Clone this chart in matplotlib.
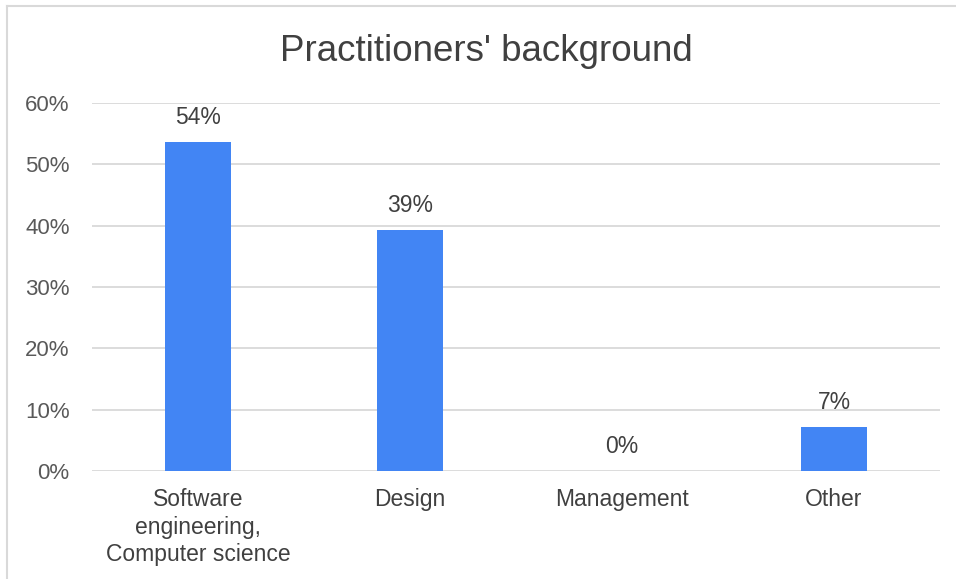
import matplotlib.pyplot as plt
from matplotlib.lines import Line2D
from matplotlib.ticker import FuncFormatter

categories = ["Software\nengineering,\nComputer science", "Design", "Management", "Other"]
shares = [15 / 28, 11 / 28, 0 / 28, 2 / 28]
y_ticks = [0, 0.1, 0.2, 0.3, 0.4, 0.5, 0.6]

BAR_COLOR = "#4285f4"
GRID_COLOR = "#d9d9d9"
TEXT_COLOR = "#595959"


def main():
    plt.rcParams['font.family'] = ['Liberation Sans', 'DejaVu Sans']
    fig = plt.figure(figsize=(9.56, 5.79), dpi=100)
    ax = fig.add_axes([0.0962, 0.1865, 0.8871, 0.6356])

    x = list(range(len(categories)))
    ax.bar(x, shares, width=0.31, color=BAR_COLOR, zorder=3)

    for xi, v in zip(x, shares):
        ax.text(xi, v + 0.022, "{:.0%}".format(v), ha="center", va="bottom",
                fontsize=16.5, color="#404040", zorder=4)

    ax.set_xlim(-0.5, len(categories) - 0.5)
    ax.set_ylim(0, 0.6)
    ax.set_yticks(y_ticks)
    ax.yaxis.set_major_formatter(FuncFormatter(lambda v, p: "{:.0%}".format(v)))
    ax.set_xticks(x)
    ax.set_xticklabels(categories, fontsize=16.5, color="#404040", linespacing=1.27)
    ax.tick_params(axis="y", labelsize=16, labelcolor=TEXT_COLOR, length=0, pad=16)
    ax.tick_params(axis="x", length=0, pad=12)

    ax.grid(axis="y", color=GRID_COLOR, linewidth=1.3, zorder=0)
    for side in ["top", "right", "left", "bottom"]:
        ax.spines[side].set_visible(False)

    fig.text(0.509, 0.911, "Practitioners' background", ha="center", va="center",
             fontsize=26.5, color="#404040")

    # outer frame edges
    fig.add_artist(Line2D([0.0068, 1.0], [0.9888, 0.9888], color=GRID_COLOR, linewidth=1.5))
    fig.add_artist(Line2D([0.0068, 0.0068], [0.0, 0.9888], color=GRID_COLOR, linewidth=1.5))

    fig.savefig("out.png", dpi=100, facecolor="white")


if __name__ == "__main__":
    main()
